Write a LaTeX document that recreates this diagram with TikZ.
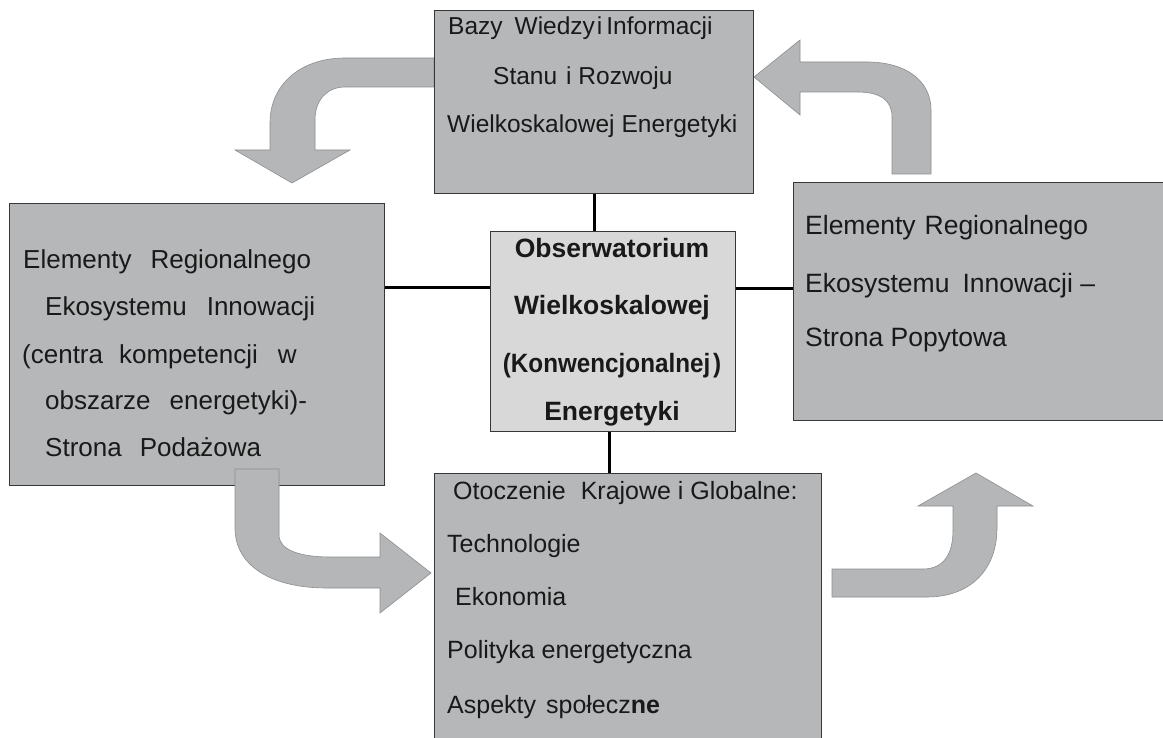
\documentclass[tikz,border=0pt]{standalone}
\usepackage{fontspec}
\usepackage{graphicx}
\setmainfont{Liberation Sans}
\definecolor{boxgray}{RGB}{181,183,184}
\definecolor{coregray}{RGB}{215,216,215}
\definecolor{arrgray}{RGB}{180,182,183}
\definecolor{arredge}{RGB}{140,142,143}
\definecolor{boxline}{RGB}{55,55,55}
\tikzset{
  box/.style={draw=boxline, line width=1.2pt, fill=boxgray, inner sep=0pt, anchor=north west},
  core/.style={box, fill=coregray},
  conn/.style={draw=black, line width=3pt},
  bentarrow/.style={fill=arrgray, draw=arredge, line width=0.6pt, line join=miter},
  txt/.style={inner sep=0pt, anchor=base west, text=black!90},
  fa/.style={txt, font=\fontsize{24.5}{28}\selectfont},
  fb/.style={txt, font=\fontsize{26}{30}\selectfont},
  fc/.style={txt, font=\fontsize{25}{29}\selectfont},
  fd/.style={txt, anchor=base, font=\fontsize{26.5}{30}\selectfont\bfseries},
}
\begin{document}
\begin{tikzpicture}[x=1pt,y=-1pt]
\path[use as bounding box, fill=white] (0,0) rectangle (1163,738);
\clip (0,0) rectangle (1163,738);

% curved arrows that run behind the boxes
\draw[bentarrow] (434,58) -- (345,58) .. controls (300,58) and (270,85) .. (270,123)
  -- (270,150) -- (235,150) -- (292,183) -- (350,150) -- (315,150) -- (315,120)
  .. controls (315,100) and (327,87) .. (345,87) -- (434,87) -- cycle;
\draw[bentarrow] (892,174) -- (892,117) .. controls (892,100) and (880,92) .. (857,92)
  -- (800,92) -- (800,115) -- (754,77) -- (800,40) -- (800,62) -- (867,62)
  .. controls (905,62) and (931,80) .. (931,110) -- (931,174) -- cycle;

% boxes
\node[box, minimum width=319pt, minimum height=183pt] (top) at (434,10) {};
\node[box, minimum width=375pt, minimum height=282pt] (lft) at (9,203) {};
\node[box, minimum width=385pt, minimum height=238pt] (rgt) at (793,182) {};
\node[box, minimum width=387pt, minimum height=290pt] (bot) at (434,473) {};
\node[core, minimum width=245pt, minimum height=200pt] (ctr) at (490,231) {};

% connectors to the central box
\draw[conn] (top.south -| 594,0) -- (ctr.north -| 594,0);
\draw[conn] (lft.east |- 0,288) -- (ctr.west |- 0,288);
\draw[conn] (ctr.east |- 0,289) -- (rgt.west |- 0,289);
\draw[conn] (ctr.south -| 609,0) -- (bot.north -| 609,0);

% curved arrows that run over the boxes
\draw[bentarrow] (235,469) -- (235,528) .. controls (235,565) and (270,588) .. (327,588)
  -- (380,588) -- (380,613) -- (431,573) -- (380,533) -- (380,557) -- (330,557)
  .. controls (300,557) and (279,550) .. (279,535) -- (279,469) -- cycle;
\draw[bentarrow] (832,569) -- (923,569) .. controls (943,569) and (953,555) .. (953,530)
  -- (953,506) -- (918,506) -- (976,473) -- (1033,506) -- (997,506) -- (997,528)
  .. controls (997,570) and (970,597) .. (927,597) -- (832,597) -- cycle;

% top box text
\node[fa] (t1) at (448,35) {Bazy\hspace{12pt}Wiedzy\hspace{2pt}i\hspace{4pt}Informacji};
\node[fa] (t2) at (493,85) {Stanu\hspace{9pt}i Rozwoju};
\node[fa] (t3) at (447,133) {Wielkoskalowej\hspace{7pt}Energetyki};

% left box text
\node[fb] (l1) at (23,269) {Elementy\hspace{19pt}Regionalnego};
\node[fb] (l2) at (45,316) {Ekosystemu\hspace{20pt}Innowacji};
\node[fb] (l3) at (22,363) {(centra\hspace{16pt}kompetencji\hspace{20pt}w};
\node[fb] (l4) at (45,409) {obszarze\hspace{19pt}energetyki)-};
\node[fb] (l5) at (45,456) {Strona\hspace{18pt}Podażowa};

% right box text
\node[fb, font=\fontsize{26.5}{30}\selectfont] (r1) at (805,235) {Elementy\hspace{9pt}Regionalnego};
\node[fb, font=\fontsize{26.5}{30}\selectfont] (r2) at (805,293) {Ekosystemu\hspace{13pt}Innowacji –};
\node[fb, font=\fontsize{26.5}{30}\selectfont] (r3) at (805,347) {Strona Popytowa};

% central box text
\node[fd] (c1) at (612,258) {Obserwatorium};
\node[fd] (c2) at (612,315) {Wielkoskalowej};
\node[fd] (c3) at (612,372) {\scalebox{0.915}[1]{(Konwencjonalnej\hspace{3pt})}};
\node[fd] (c4) at (612,420) {Energetyki};

% bottom box text
\node[fc] (b1) at (453,499) {Otoczenie\hspace{15pt}Krajowe i Globalne:};
\node[fc] (b2) at (447,552) {Technologie};
\node[fc] (b3) at (455,605) {Ekonomia};
\node[fc] (b4) at (447,658) {Polityka energetyczna};
\node[fc] (b5) at (447,713) {Aspekty\hspace{10pt}społecz{\bfseries ne}};
\end{tikzpicture}
\end{document}
